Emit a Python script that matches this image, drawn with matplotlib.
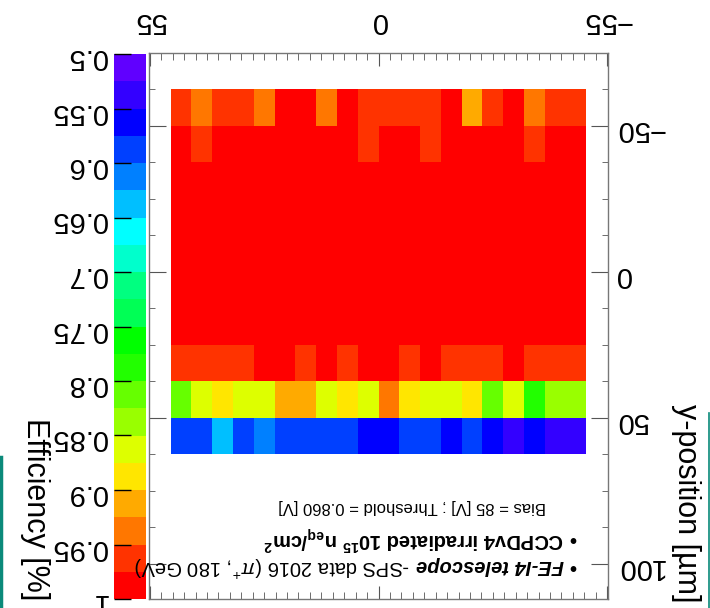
import numpy as np
import matplotlib.pyplot as plt
from matplotlib.colors import ListedColormap, BoundaryNorm
from matplotlib.lines import Line2D
from matplotlib.ticker import FixedLocator, MultipleLocator

plt.rcParams['font.family'] = ['Liberation Sans', 'DejaVu Sans']
plt.rcParams['mathtext.fontset'] = 'custom'
plt.rcParams['mathtext.rm'] = 'Liberation Sans'
plt.rcParams['mathtext.it'] = 'Liberation Sans:italic'
plt.rcParams['mathtext.bf'] = 'Liberation Sans:bold'

W, H = 710, 608

# pixel bins: x edges from +50 down to -50 um, y edges from -62.5 up to 62.5 um
x_edges = np.arange(50, -51, -5)
y_edges = np.arange(-62.5, 63, 12.5)

# efficiency per row (y from -62.5 upwards), columns follow x_edges (x = +50 -> -50)
row_m625 = [0.96, 0.94, 0.96, 0.96, 0.94, 0.99, 0.99, 0.94, 0.99, 0.96,
            0.96, 0.96, 0.96, 0.99, 0.91, 0.96, 0.99, 0.94, 0.96, 0.96]
row_m50 = [0.99, 0.96, 0.99, 0.99, 0.99, 0.99, 0.99, 0.99, 0.99, 0.96,
           0.99, 0.99, 0.96, 0.99, 0.99, 0.99, 0.99, 0.96, 0.99, 0.99]
row_m375 = [0.99] * 20
row_m25 = [0.99] * 20
row_m125 = [0.99] * 20
row_0 = [0.99] * 20
row_125 = [0.99] * 20
row_25 = [0.96, 0.96, 0.96, 0.96, 0.99, 0.99, 0.96, 0.99, 0.96, 0.99,
          0.99, 0.96, 0.99, 0.96, 0.96, 0.96, 0.99, 0.96, 0.96, 0.96]
row_375 = [0.81, 0.86, 0.89, 0.86, 0.86, 0.91, 0.91, 0.86, 0.89, 0.86,
           0.94, 0.89, 0.86, 0.86, 0.89, 0.81, 0.86, 0.79, 0.84, 0.84]
row_50 = [0.59, 0.59, 0.64, 0.59, 0.61, 0.59, 0.59, 0.59, 0.59, 0.56,
          0.56, 0.59, 0.59, 0.56, 0.59, 0.56, 0.54, 0.56, 0.54, 0.54]

eff = np.array([row_m625, row_m50, row_m375, row_m25, row_m125,
                row_0, row_125, row_25, row_375, row_50])

# ROOT-like rainbow palette, 20 levels between 0.5 and 1
palette = ['#6000ff', '#3300ff', '#0000ff', '#0040ff', '#0080ff',
           '#00bfff', '#00ffff', '#00ffcc', '#00ff80', '#00ff55',
           '#00ff00', '#22ff00', '#66ff00', '#99ff00', '#ddff00',
           '#ffe600', '#ffaa00', '#ff7700', '#ff3300', '#ff0000']
levels = np.linspace(0.5, 1.0, 21)
cb_ticks = [0.5, 0.55, 0.6, 0.65, 0.7, 0.75, 0.8, 0.85, 0.9, 0.95, 1.0]
cb_labels = ['0.5', '0.55', '0.6', '0.65', '0.7', '0.75', '0.8', '0.85', '0.9', '0.95', '1']

x_ticks = [-55, 0, 55]
x_labels = ['\u221255', '0', '55']
y_ticks = [-50, 0, 50, 100]
y_labels = ['\u221250', '0', '50', '100']

cmap = ListedColormap(palette)
norm = BoundaryNorm(levels, cmap.N)

fig = plt.figure(figsize=(W / 100, H / 100), dpi=100)
frame_col = '#777777'

ax = fig.add_axes([149 / W, 1 - 599 / H, 459 / W, 546 / H])
mesh = ax.pcolormesh(x_edges, y_edges, eff, cmap=cmap, norm=norm)
ax.set_xlim(55.2, -55.2)
ax.set_ylim(112, -75)
for s in ax.spines.values():
    s.set_color(frame_col)
    s.set_linewidth(1)

ax.xaxis.set_major_locator(FixedLocator(x_ticks))
ax.set_xticklabels(x_labels)
ax.xaxis.set_minor_locator(MultipleLocator(2.75))
ax.yaxis.set_major_locator(FixedLocator(y_ticks))
ax.set_yticklabels(y_labels)
ax.yaxis.set_minor_locator(MultipleLocator(12.5))

ax.tick_params(axis='x', which='both', direction='in', top=True, bottom=True,
               labeltop=True, labelbottom=False, color='#555555')
ax.tick_params(axis='x', which='major', length=9.5, labelsize=21, labelrotation=180, pad=13)
ax.tick_params(axis='x', which='minor', length=5)
ax.tick_params(axis='y', which='both', direction='in', left=True, right=True,
               labelleft=False, labelright=True, color='#555555')
ax.tick_params(axis='y', which='major', length=12, labelsize=21, labelrotation=180, pad=5)
ax.tick_params(axis='y', which='minor', length=4.5)

# colour scale on the left
cax = fig.add_axes([114 / W, 1 - 599 / H, 32 / W, 545 / H])
cb = fig.colorbar(mesh, cax=cax, ticks=cb_ticks)
cb.outline.set_visible(False)
cax.invert_yaxis()
cax.yaxis.set_ticks_position('left')
cb.set_ticklabels(cb_labels)
cax.tick_params(axis='y', which='major', direction='in', length=12, width=1, color='black',
                left=True, right=False, labelleft=True, labelright=False,
                labelsize=21, labelrotation=180, pad=5)
cax.minorticks_off()

# axis titles (upside down)
fig.text(686 / W, 1 - 602 / H, 'y-position [\u00b5m]', rotation=270, ha='center', va='bottom', fontsize=22)
fig.text(35 / W, 1 - 600 / H, 'Efficiency [%]', rotation=270, ha='center', va='bottom', fontsize=22)

# legend lines, composed piece by piece
fig.canvas.draw()
renderer = fig.canvas.get_renderer()


def put_line(x_px, y_px, pieces):
    x = x_px
    for txt, gap, kw in pieces:
        x -= gap
        t = fig.text(x / W, 1 - y_px / H, txt, rotation=180, rotation_mode='anchor',
                     ha='left', va='baseline', **kw)
        x = t.get_window_extent(renderer).x0


put_line(576, 560, [
    ('\u2022', 0, dict(fontsize=14.5, fontweight='bold')),
    ('FE-I4 telescope', 5, dict(fontsize=14.5, fontweight='bold', fontstyle='italic')),
    (r'-SPS data 2016 ($\pi^{+}$, 180 GeV)', 6, dict(fontsize=14.5)),
])
put_line(576, 532, [
    ('\u2022', 0, dict(fontsize=14.5, fontweight='bold')),
    (r'CCPDv4 irradiated 10$^{\mathbf{15}}$ n$_{\mathbf{eq}}$/cm$^{\mathbf{2}}$', 5,
     dict(fontsize=14.5, fontweight='bold')),
])
put_line(546, 502, [
    ('Bias = 85 [V] ; Threshold = 0.860 [V]', 0, dict(fontsize=12)),
])

# thin teal edges present in the screenshot
fig.add_artist(Line2D([1.5 / W, 1.5 / W], [0, 1 - 457 / H], color='#0b8a7a', lw=2.5))
fig.add_artist(Line2D([708.5 / W, 708.5 / W], [0, 1 - 413 / H], color='#0b8a7a', lw=1.2))

fig.savefig('out.png', dpi=100)
